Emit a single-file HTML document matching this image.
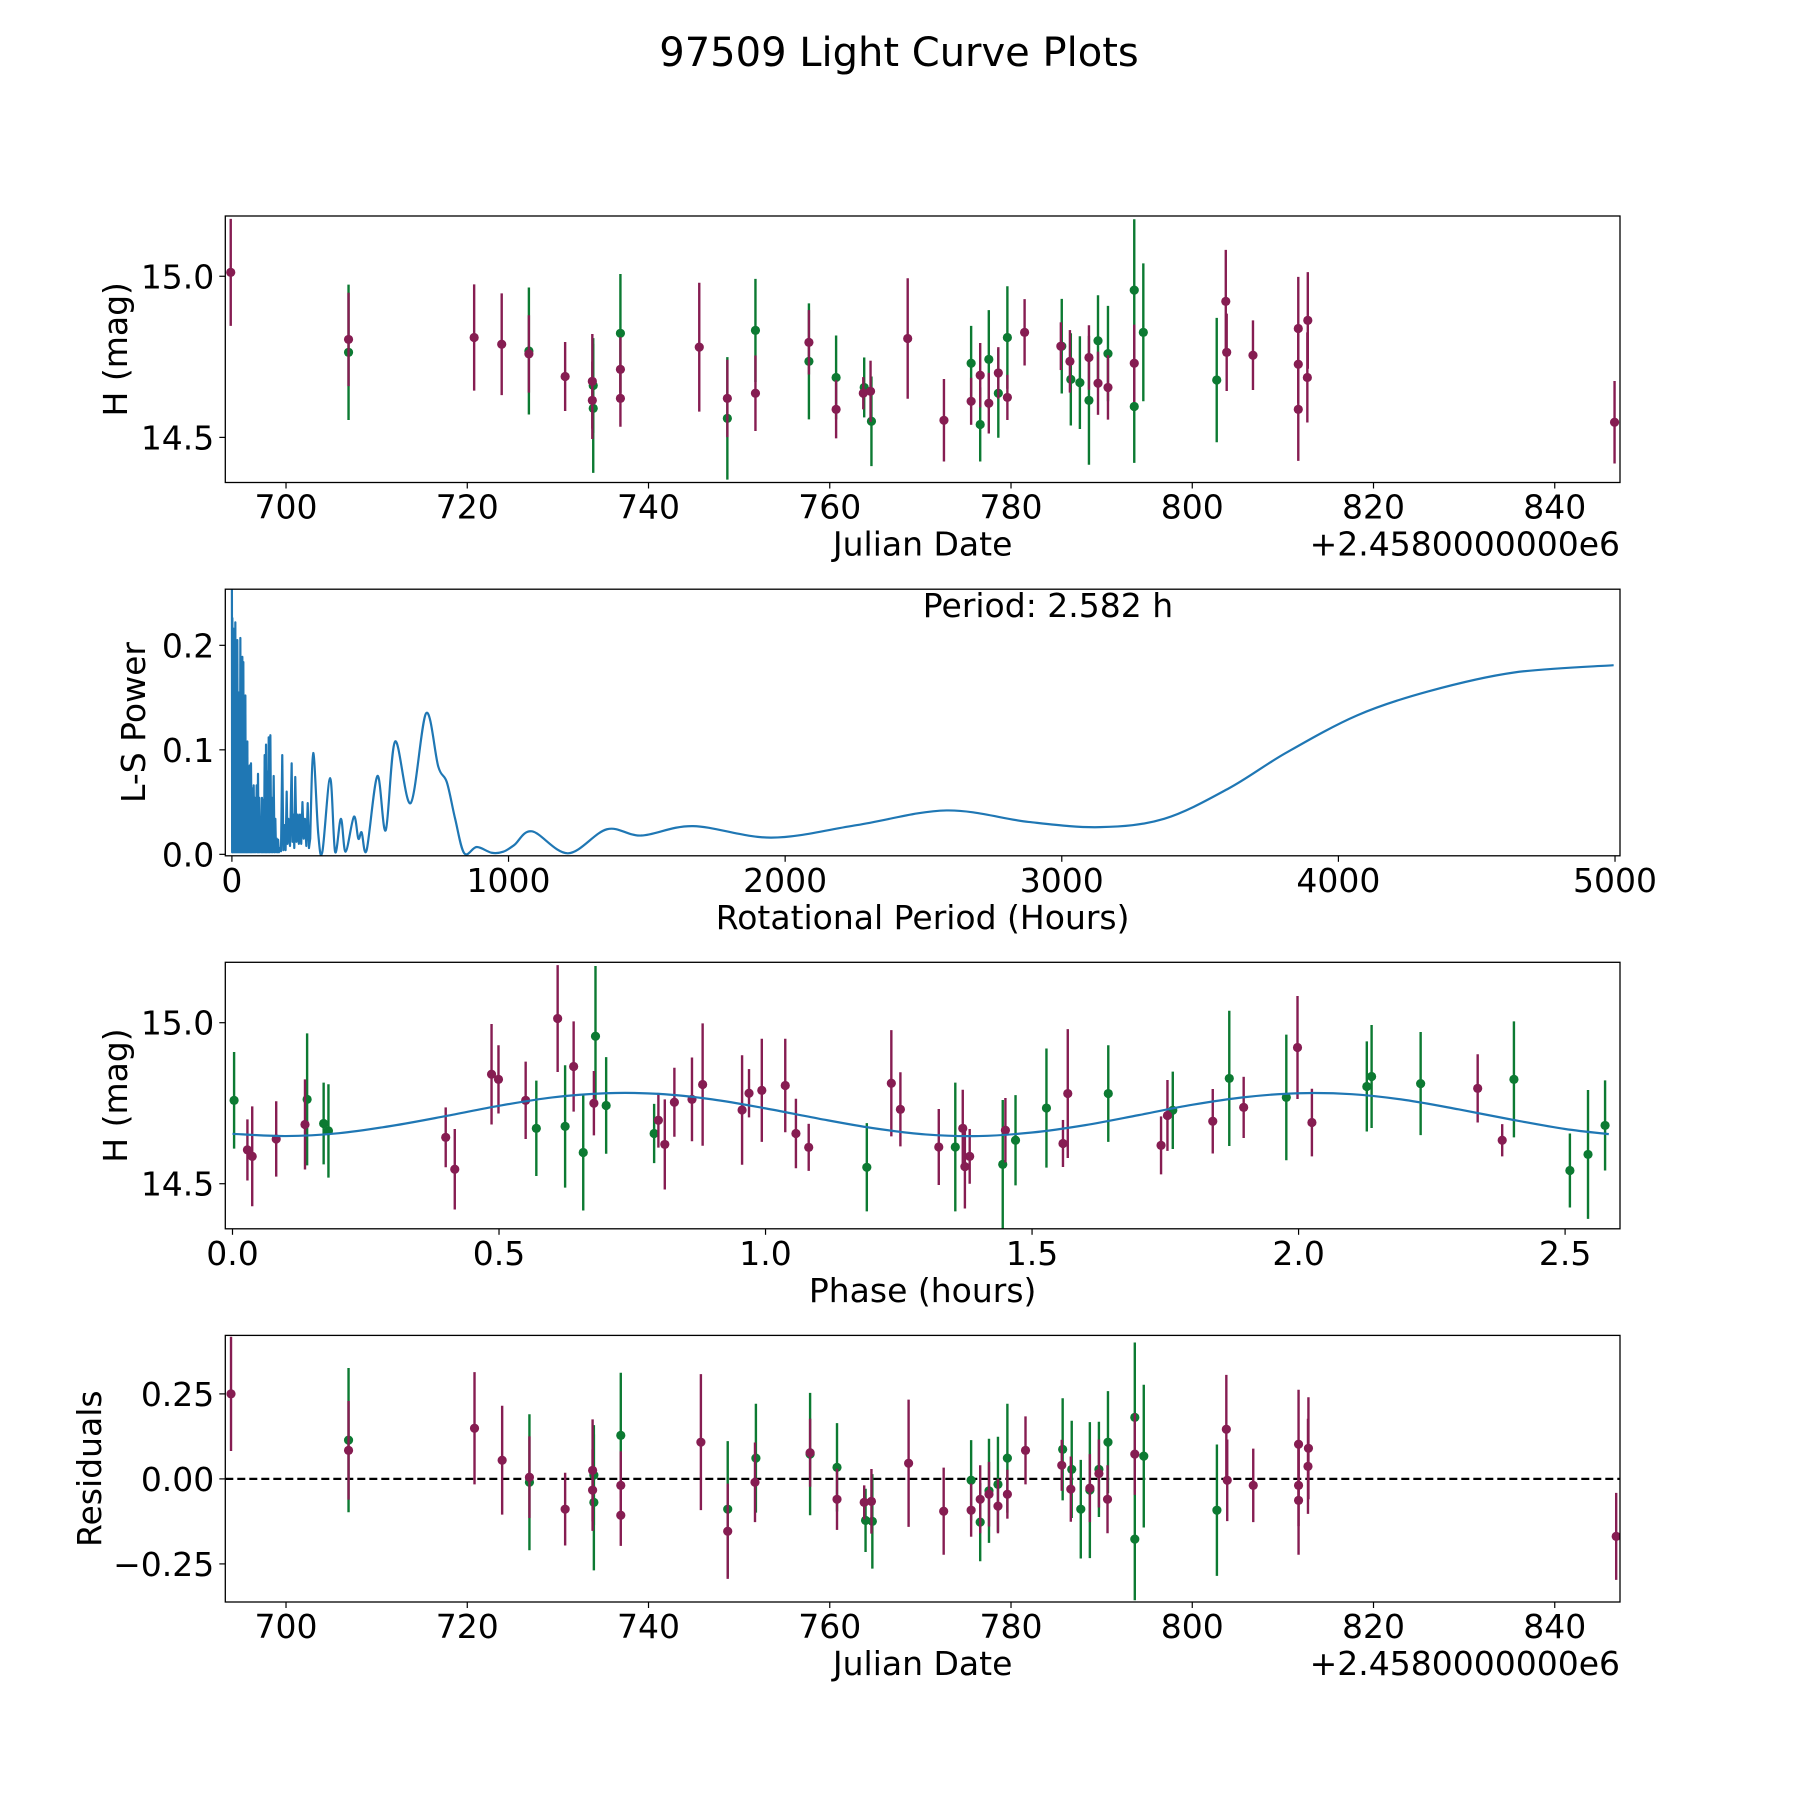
<!DOCTYPE html>
<html><head><meta charset="utf-8"><style>
html,body{margin:0;padding:0;background:#fff;}
svg{display:block;font-family:"DejaVu Sans","Liberation Sans",sans-serif;}
</style></head><body>
<svg id="fig" width="1800" height="1800" viewBox="0 0 1800 1800" xmlns="http://www.w3.org/2000/svg">
<rect x="0" y="0" width="1800" height="1800" fill="#fff"/>
<text x="899" y="66" font-size="40" text-anchor="middle">97509 Light Curve Plots</text>
</svg>
<script>
// ---- Panel 1: light curve (Julian Date) ----
const lcJdP=[693.9,706.9,720.76,723.8,726.8,730.8,733.8,733.8,736.9,736.9,745.6,748.7,751.8,757.7,760.7,763.7,764.5,768.6,772.6,775.6,776.6,777.55,778.6,779.6,781.5,785.5,786.5,788.6,789.6,790.7,793.6,803.7,803.8,806.7,811.7,811.7,811.7,812.75,812.7,846.6];
const lcMagP=[15.012,14.804,14.81,14.789,14.759,14.689,14.674,14.615,14.711,14.621,14.78,14.621,14.637,14.795,14.587,14.637,14.643,14.807,14.553,14.612,14.693,14.606,14.7,14.624,14.826,14.783,14.736,14.748,14.668,14.655,14.73,14.922,14.764,14.755,14.838,14.727,14.587,14.863,14.686,14.547];
const lcErrP=[0.166,0.145,0.165,0.158,0.12,0.107,0.147,0.12,0.1,0.088,0.2,0.12,0.117,0.1,0.09,0.05,0.095,0.187,0.128,0.073,0.1,0.094,0.08,0.07,0.103,0.074,0.097,0.1,0.098,0.1,0.12,0.16,0.12,0.108,0.16,0.12,0.16,0.15,0.14,0.128];
const lcJdG=[706.9,726.8,733.9,733.9,736.9,748.7,751.8,757.7,760.7,763.8,764.6,775.6,776.6,777.55,778.6,779.6,785.6,786.6,787.6,788.6,789.6,790.7,793.6,793.6,794.6,802.7];
const lcMagG=[14.764,14.768,14.661,14.59,14.823,14.559,14.832,14.736,14.686,14.655,14.55,14.73,14.54,14.742,14.637,14.81,14.783,14.68,14.67,14.615,14.8,14.76,14.957,14.596,14.826,14.678];
const lcErrG=[0.21,0.197,0.147,0.2,0.184,0.19,0.16,0.18,0.13,0.093,0.139,0.116,0.115,0.153,0.138,0.159,0.147,0.143,0.144,0.2,0.141,0.148,0.22,0.175,0.214,0.193];
const jdTicks=[700,720,740,760,780,800,820,840];
const magTicks=[14.5,15.0];
const magTickLabels=["14.5","15.0"];
// ---- Panel 2: periodogram ----
const lsPeakP=[0,1.6,5.2,8.8,12.4,16,19.6,23.3,26.9,30.5,34.1,37.7,41.3,44.9,48.6,52.2,55.8,59.4,64.2,69,73.9,78.7,83.5,89.5,94.3,99.2,104,108.8,113.6,118.4,123.3,128,133,139,145,151,157,162,167,173,182,190,198,204,216,222,229,238,246,255,264,274,283];
const lsPeakPow=[0.2577,0.226,0.216,0.165,0.222,0.146,0.205,0.155,0.136,0.207,0.162,0.189,0.184,0.117,0.152,0.085,0.108,0.066,0.085,0.087,0.063,0.066,0.054,0.066,0.077,0.054,0.034,0.054,0.052,0.095,0.105,0.079,0.112,0.114,0.054,0.075,0.034,0.015,0.014,0.006,0.095,0.028,0.06,0.034,0.087,0.038,0.074,0.038,0.038,0.05,0.034,0.049,0.015];
const lsTroughPow=[0.002,0.002,0.002,0.002,0.002,0.002,0.002,0.002,0.002,0.002,0.002,0.002,0.002,0.002,0.002,0.002,0.002,0.002,0.002,0.002,0.002,0.002,0.002,0.002,0.002,0.002,0.002,0.002,0.002,0.002,0.002,0.002,0.002,0.002,0.002,0.002,0.002,0.002,0.002,0.003,0.004,0.004,0.01,0.008,0.012,0.006,0.012,0.01,0.01,0.015,0.008,0.006];
const lsSmoothP=[294,312,327,355,373,394,411,441,457,469,487,526,556,590,646,702,746,777,807,840,885,939,981,1021,1085,1215,1356,1480,1667,1950,2260,2583,2880,3138,3370,3603,3810,4068,4326,4635,4995];
const lsSmoothPow=[0.097,0.02,0.0025,0.073,0.0025,0.034,0.0025,0.036,0.015,0.021,0.004,0.075,0.023,0.108,0.049,0.135,0.084,0.069,0.034,0.001,0.007,0.0015,0.0025,0.009,0.022,0.001,0.024,0.018,0.027,0.016,0.028,0.042,0.031,0.026,0.034,0.063,0.097,0.133,0.156,0.174,0.181];
const perTicks=[0,1000,2000,3000,4000,5000];
const powTicks=[0,0.1,0.2];
const powTickLabels=["0.0","0.1","0.2"];
// ---- Panel 3: phase-folded ----
const phP=[0.028,0.037,0.082,0.136,0.4,0.417,0.486,0.499,0.55,0.61,0.64,0.678,0.799,0.811,0.829,0.862,0.882,0.956,0.969,0.993,1.037,1.057,1.081,1.236,1.253,1.325,1.37,1.374,1.383,1.45,1.558,1.567,1.742,1.754,1.839,1.897,1.998,2.025,2.336,2.382];
const phMagP=[14.605,14.585,14.639,14.684,14.644,14.545,14.84,14.824,14.759,15.013,14.864,14.75,14.697,14.622,14.753,14.762,14.808,14.729,14.781,14.79,14.805,14.656,14.613,14.812,14.731,14.614,14.672,14.553,14.585,14.666,14.625,14.78,14.619,14.712,14.694,14.737,14.923,14.69,14.796,14.635];
const phErrP=[0.095,0.155,0.117,0.14,0.093,0.125,0.156,0.106,0.12,0.166,0.14,0.1,0.085,0.14,0.107,0.13,0.19,0.17,0.075,0.16,0.145,0.108,0.073,0.165,0.115,0.118,0.12,0.13,0.085,0.1,0.073,0.2,0.09,0.11,0.1,0.095,0.16,0.105,0.106,0.05];
const phG=[0.003,0.14,0.171,0.18,0.57,0.624,0.658,0.681,0.701,0.791,1.19,1.356,1.445,1.469,1.527,1.643,1.764,1.87,1.977,2.128,2.137,2.229,2.404,2.509,2.543,2.575];
const phMagG=[14.759,14.762,14.687,14.664,14.672,14.678,14.597,14.958,14.743,14.656,14.551,14.614,14.56,14.635,14.735,14.78,14.728,14.827,14.768,14.802,14.833,14.811,14.824,14.541,14.591,14.681];
const phErrG=[0.15,0.205,0.127,0.145,0.148,0.19,0.18,0.218,0.15,0.092,0.137,0.2,0.2,0.14,0.185,0.15,0.12,0.21,0.195,0.14,0.16,0.16,0.18,0.115,0.2,0.14];
const modelPhase=[0,0.1,0.2,0.3,0.4,0.5,0.6,0.7,0.8,0.9,1.0,1.1,1.2,1.3,1.4,1.5,1.6,1.7,1.8,1.9,2.0,2.1,2.2,2.3,2.4,2.5,2.582];
const modelMag=[14.655,14.648,14.657,14.68,14.71,14.742,14.768,14.781,14.779,14.762,14.734,14.702,14.673,14.653,14.648,14.659,14.682,14.713,14.745,14.769,14.781,14.778,14.76,14.731,14.699,14.67,14.654];
const phaseTicks=[0,0.5,1.0,1.5,2.0,2.5];
const phaseTickLabels=["0.0","0.5","1.0","1.5","2.0","2.5"];
// ---- Panel 4: residuals ----
const rsJdP=[693.93,706.9,720.8,723.85,726.86,730.8,733.83,733.83,736.94,736.94,745.78,748.74,751.75,757.83,760.8,763.8,764.6,768.7,772.57,775.6,776.6,777.57,778.56,779.6,781.6,785.6,786.6,788.7,789.7,790.65,793.66,803.76,803.86,806.73,811.73,811.73,811.73,812.82,812.77,846.78];
const rsValP=[0.25,0.084,0.149,0.055,0.005,-0.089,0.025,-0.033,-0.019,-0.107,0.108,-0.154,-0.01,0.077,-0.06,-0.069,-0.066,0.046,-0.095,-0.092,-0.06,-0.045,-0.08,-0.045,0.084,0.04,-0.03,-0.027,0.016,-0.06,0.073,0.146,-0.004,-0.019,0.102,-0.019,-0.063,0.09,0.037,-0.169];
const rsErrP=[0.168,0.145,0.165,0.16,0.12,0.107,0.15,0.12,0.1,0.09,0.2,0.14,0.117,0.1,0.09,0.05,0.095,0.187,0.128,0.078,0.1,0.095,0.08,0.072,0.1,0.075,0.096,0.1,0.1,0.1,0.12,0.16,0.12,0.108,0.16,0.12,0.16,0.15,0.14,0.128];
const rsJdG=[706.9,726.86,733.97,733.97,736.94,748.74,751.85,757.83,760.8,763.95,764.7,775.6,776.6,777.57,778.56,779.6,785.7,786.7,787.7,788.7,789.7,790.7,793.66,793.66,794.65,802.72];
const rsValG=[0.114,-0.01,0.011,-0.069,0.128,-0.089,0.061,0.073,0.034,-0.122,-0.125,-0.004,-0.127,-0.035,-0.016,0.061,0.087,0.028,-0.089,-0.033,0.028,0.108,0.181,-0.177,0.067,-0.092];
const rsErrG=[0.212,0.2,0.147,0.2,0.184,0.2,0.16,0.18,0.13,0.093,0.139,0.118,0.115,0.153,0.14,0.16,0.15,0.143,0.145,0.2,0.14,0.15,0.22,0.18,0.21,0.193];
const resTicks=[-0.25,0,0.25];
const resTickLabels=["\u22120.25","0.00","0.25"];

const NS="http://www.w3.org/2000/svg";
const svg=document.getElementById('fig');
const PURPLE="#861d52", GREEN="#0c7a32", BLUE="#1f77b4";
const L=225.3,R=1620;
function el(tag,attrs,parent){const e=document.createElementNS(NS,tag);for(const k in attrs)e.setAttribute(k,attrs[k]);(parent||svg).appendChild(e);return e;}
function lin(d0,d1,r0,r1){return v=>r0+(v-d0)*(r1-r0)/(d1-d0);}
// Catmull-Rom smooth path segment through pixel points (starting after pts[0])
function smoothSeg(p){
  let d='';
  for(let i=0;i<p.length-1;i++){
    const p0=p[Math.max(i-1,0)],p1=p[i],p2=p[i+1],p3=p[Math.min(i+2,p.length-1)];
    const c1x=p1[0]+(p2[0]-p0[0])/6,c1y=p1[1]+(p2[1]-p0[1])/6;
    const c2x=p2[0]-(p3[0]-p1[0])/6,c2y=p2[1]-(p3[1]-p1[1])/6;
    d+=' C'+c1x.toFixed(2)+','+c1y.toFixed(2)+' '+c2x.toFixed(2)+','+c2y.toFixed(2)+' '+p2[0].toFixed(2)+','+p2[1].toFixed(2);
  }
  return d;
}

function makePanel(id,top,bot,xd,yd,xt,xtl,yt,ytl,xlabel,ylabel,ylabelX){
  const g=el('g',{});
  
  
  const sx=lin(xd[0],xd[1],L,R), sy=lin(yd[0],yd[1],bot,top);
  const cp=el('clipPath',{id:id+'-clip'},g);
  el('rect',{x:L,y:top,width:R-L,height:bot-top},cp);
  const plot=el('g',{'clip-path':'url(#'+id+'-clip)'},g);
  
  
  const frame=el('rect',{x:L,y:top,width:R-L,height:bot-top,fill:'none',stroke:'#000','stroke-width':1.3},g);
  
  
  xt.forEach((v,i)=>{const x=sx(v);
    const t=el('line',{x1:x,x2:x,y1:bot,y2:bot+6,stroke:'#000','stroke-width':1.2},g);
    
    
    const tx=el('text',{x:x,y:bot+36,'font-size':33,'text-anchor':'middle'},g);
    tx.textContent=xtl[i];
    
    
  });
  yt.forEach((v,i)=>{const y=sy(v);
    const t=el('line',{x1:L-6,x2:L,y1:y,y2:y,stroke:'#000','stroke-width':1.2},g);
    
    
    const tx=el('text',{x:L-11,y:y+12,'font-size':33,'text-anchor':'end'},g);
    tx.textContent=ytl[i];
    
    
  });
  const xl=el('text',{x:(L+R)/2,y:bot+73,'font-size':33,'text-anchor':'middle'},g);
  xl.textContent=xlabel;
  
  
  const cy=(top+bot)/2;
  const yl=el('text',{x:ylabelX,y:cy,'font-size':33,'text-anchor':'middle',transform:'rotate(-90 '+ylabelX+' '+cy+')'},g);
  yl.textContent=ylabel;
  
  
  return {sx,sy,plot,g};
}
function errPoints(p,xs,ys,es,color,name){
  xs.forEach((v,i)=>{
    const x=p.sx(v), y=p.sy(ys[i]);
    const b=el('line',{x1:x,x2:x,y1:p.sy(ys[i]+es[i]),y2:p.sy(ys[i]-es[i]),stroke:color,'stroke-width':2.4},p.plot);
    
    
    const c=el('circle',{cx:x,cy:y,r:4.6,fill:color},p.plot);
    
    
  });
}
function offsetText(p,bot){
  const t=el('text',{x:R,y:bot+73,'font-size':33,'text-anchor':'end'},p.g);
  t.textContent='+2.4580000000e6';
  
  
}
const jdLabels=jdTicks.map(String);

// Panel 1
const p1=makePanel('light-curve',216,482.5,[693.3,847.2],[14.36,15.187],jdTicks,jdLabels,magTicks,magTickLabels,'Julian Date','H (mag)',127);
errPoints(p1,lcJdG,lcMagG,lcErrG,GREEN,'green-filter');
errPoints(p1,lcJdP,lcMagP,lcErrP,PURPLE,'purple-filter');
offsetText(p1,482.5);

// Panel 2
const p2=makePanel('periodogram',589.2,855.8,[-23.9,5018],[-0.0014,0.2537],perTicks,perTicks.map(String),powTicks,powTickLabels,'Rotational Period (Hours)','L-S Power',145);
let spiky=[];
lsPeakP.forEach((P,i)=>{
  spiky.push([p2.sx(P),p2.sy(lsPeakPow[i])]);
  if(i<lsTroughPow.length){spiky.push([p2.sx((P+lsPeakP[i+1])/2),p2.sy(lsTroughPow[i])]);}
});
let d='M'+spiky.map(q=>q[0].toFixed(2)+','+q[1].toFixed(2)).join(' L');
const smooth=[spiky[spiky.length-1]].concat(lsSmoothP.map((P,i)=>[p2.sx(P),p2.sy(lsSmoothPow[i])]));
d+=smoothSeg(smooth);
const ls=el('path',{d:d,fill:'none',stroke:BLUE,'stroke-width':2.2,'stroke-linejoin':'round'},p2.plot);


const per=el('text',{x:1048,y:617,'font-size':33,'text-anchor':'middle'},p2.g);
per.textContent='Period: 2.582 h';



// Panel 3
const p3=makePanel('phase',962.3,1228.8,[-0.0135,2.603],[14.36,15.1876],phaseTicks,phaseTickLabels,magTicks,magTickLabels,'Phase (hours)','H (mag)',127);
errPoints(p3,phG,phMagG,phErrG,GREEN,'phase-green');
errPoints(p3,phP,phMagP,phErrP,PURPLE,'phase-purple');
const mp=modelPhase.map((v,i)=>[p3.sx(v),p3.sy(modelMag[i])]);
const fit=el('path',{d:'M'+mp[0][0].toFixed(2)+','+mp[0][1].toFixed(2)+smoothSeg(mp),fill:'none',stroke:BLUE,'stroke-width':2.2},p3.plot);



// Panel 4
const p4=makePanel('residuals',1335.4,1602,[693.3,847.2],[-0.362,0.422],jdTicks,jdLabels,resTicks,resTickLabels,'Julian Date','Residuals',101);
const zl=el('line',{x1:L,x2:R,y1:p4.sy(0),y2:p4.sy(0),stroke:'#000','stroke-width':2.2,'stroke-dasharray':'8 4'},p4.plot);


errPoints(p4,rsJdG,rsValG,rsErrG,GREEN,'residual-green');
errPoints(p4,rsJdP,rsValP,rsErrP,PURPLE,'residual-purple');
offsetText(p4,1602);
</script>
</body></html>
